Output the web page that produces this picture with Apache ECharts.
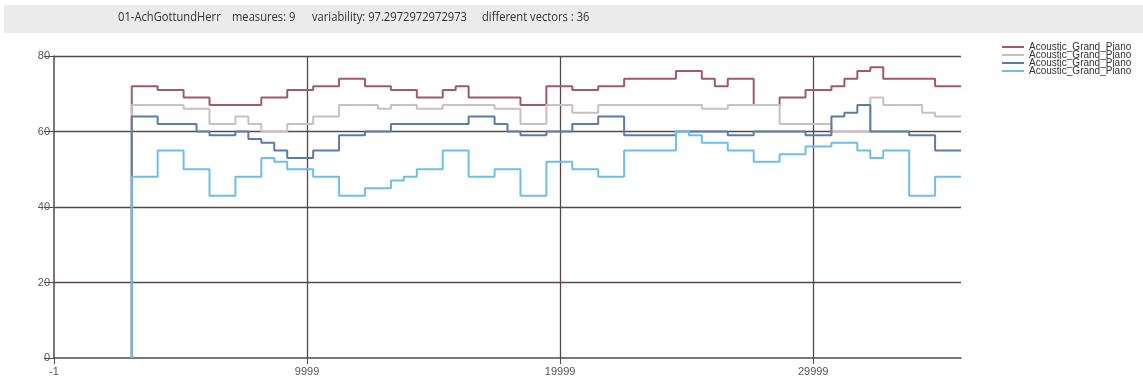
<!DOCTYPE html>
<html><head><meta charset="utf-8">
<script src="https://cdn.jsdelivr.net/npm/echarts@6/dist/echarts.min.js"></script>
<style>html,body{margin:0;padding:0;background:#fff}#c{width:1143px;height:383px}</style>
</head><body><div id="c"></div>
<script>
// ---- header info ----
const headerTexts = ['01-AchGottundHerr', 'measures: 9', 'variability: 97.2972972972973', 'different vectors : 36'];
const seriesNames = ['Acoustic_Grand_Piano', 'Acoustic_Grand_Piano', 'Acoustic_Grand_Piano', 'Acoustic_Grand_Piano'];

// ---- time base (MIDI ticks) ----
const ticksPerBeat = 1024;
const startTick = 3072;
const endBeat = 32;

// ---- voices: onset (in beats after start) and pitch ----
const sopranoBeats = [0, 1, 2, 3, 5, 6, 7, 8, 9, 10, 11, 12, 12.5, 13, 15, 16, 17, 18, 19, 21, 22, 22.5, 23, 24, 25, 26, 27, 27.5, 28, 28.5, 29, 31];
const sopranoPitch = [72, 71, 69, 67, 69, 71, 72, 74, 72, 71, 69, 71, 72, 69, 67, 72, 71, 72, 74, 76, 74, 72, 74, 67, 69, 71, 72, 74, 76, 77, 74, 72];

const altoBeats = [0, 2, 3, 4, 4.5, 5, 6, 7, 8, 9.5, 10, 11, 12, 14, 15, 16, 17, 18, 22, 23, 25, 27, 28.5, 29, 30.5, 31];
const altoPitch = [67, 66, 62, 64, 62, 60, 62, 64, 67, 66, 67, 66, 67, 66, 62, 67, 65, 67, 66, 67, 62, 60, 69, 67, 65, 64];

const tenorBeats = [0, 1, 2.5, 3, 4, 4.5, 5, 5.5, 6, 7, 8, 9, 10, 13, 14, 14.5, 15, 16, 17, 18, 19, 21, 23, 24, 26, 27, 27.5, 28, 28.5, 30, 31];
const tenorPitch = [64, 62, 60, 59, 60, 58, 57, 55, 53, 55, 59, 60, 62, 64, 62, 60, 59, 60, 62, 64, 59, 60, 59, 60, 59, 64, 65, 67, 60, 59, 55];

const bassBeats = [0, 1, 2, 3, 4, 5, 5.5, 6, 7, 8, 9, 10, 10.5, 11, 12, 13, 14, 15, 16, 17, 18, 19, 21, 21.5, 22, 23, 24, 25, 26, 27, 28, 28.5, 29, 30, 31];
const bassPitch = [48, 55, 50, 43, 48, 53, 52, 50, 48, 43, 45, 47, 48, 50, 55, 48, 50, 43, 52, 50, 48, 55, 60, 59, 57, 55, 52, 54, 56, 57, 55, 53, 55, 43, 48];

// ---- axes ----
const xTickLabels = [-1, 9999, 19999, 29999];
const yTickLabels = [0, 20, 40, 60, 80];

function voice(beats, pitch) {
  const pts = [[startTick, 0]];
  for (let i = 0; i < beats.length; i++) pts.push([startTick + beats[i] * ticksPerBeat, pitch[i]]);
  pts.push([startTick + endBeat * ticksPerBeat, pitch[pitch.length - 1]]);
  return pts;
}

const voices = [
  voice(sopranoBeats, sopranoPitch),
  voice(altoBeats, altoPitch),
  voice(tenorBeats, tenorPitch),
  voice(bassBeats, bassPitch)
];
const colors = ['#a05a6b', '#c9bfc4', '#5a7ca6', '#6cc0e6'];
const gridColor = '#574748';
const ZW = '\u200b';
const headerFont = '13px "Open Sans", sans-serif';
const headerX = [118, 232, 312, 482];

const chart = echarts.init(document.getElementById('c'), null, {renderer: 'canvas'});
chart.setOption({
  animation: false,
  backgroundColor: '#ffffff',
  grid: {left: 54, right: 182, top: 56, bottom: 25, containLabel: false},
  legend: {
    orient: 'vertical', left: 997, top: 37, itemGap: -2, itemWidth: 22, itemHeight: 2, icon: 'rect',
    textStyle: {fontSize: 10, color: '#333', fontFamily: 'Liberation Sans, Arial, sans-serif'},
    formatter: n => n.replace(/\u200b/g, ''),
    data: seriesNames.map((n, i) => n + ZW.repeat(i))
  },
  xAxis: {
    type: 'value', min: -1, max: startTick + endBeat * ticksPerBeat, interval: 10000,
    axisLine: {show: true, onZero: false, lineStyle: {color: gridColor, width: 1.5}},
    axisTick: {show: true, length: 6, lineStyle: {color: gridColor}, customValues: xTickLabels},
    axisLabel: {customValues: xTickLabels, formatter: v => String(v), color: '#555', fontSize: 11, margin: 8,
      fontFamily: 'Liberation Sans Narrow, Liberation Sans, Arial, sans-serif'},
    splitLine: {show: true, showMinLine: false, lineStyle: {color: gridColor, width: 1.3}}
  },
  yAxis: {
    type: 'value', min: 0, max: 80, interval: 20,
    axisLine: {show: true, lineStyle: {color: gridColor, width: 1.5}},
    axisTick: {show: true, length: 10, lineStyle: {color: gridColor}},
    axisLabel: {color: '#555', fontSize: 11, margin: 4, fontFamily: 'Liberation Sans, Arial, sans-serif'},
    splitLine: {show: true, showMinLine: false, lineStyle: {color: gridColor, width: 1.3}}
  },
  graphic: [
    {type: 'rect', left: 4, top: 5, shape: {width: 1139, height: 28}, style: {fill: '#ebebeb'}, silent: true}
  ].concat(headerTexts.map((t, i) => ({
    type: 'text', x: headerX[i], y: 11, scaleX: 0.86, style: {text: t, font: headerFont, fill: '#333'}
  }))),
  series: voices.map((d, i) => ({
    name: seriesNames[i] + ZW.repeat(i),
    type: 'line', step: 'end', symbol: 'none', data: d,
    lineStyle: {color: colors[i], width: 2}, itemStyle: {color: colors[i]},
    z: 2 + i
  }))
});
</script></body></html>
